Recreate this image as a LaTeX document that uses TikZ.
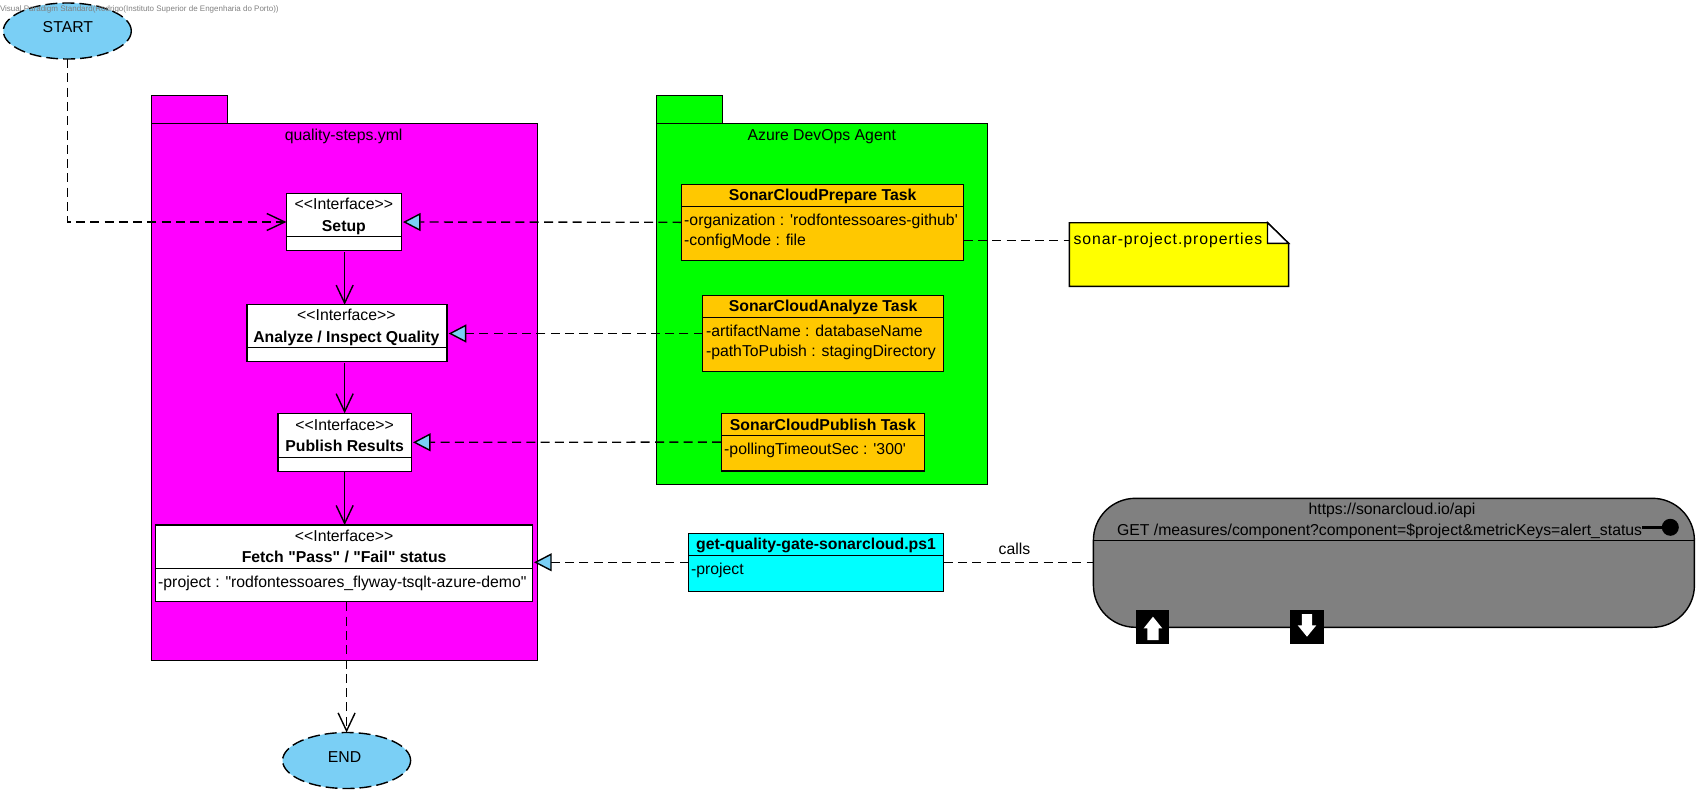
\documentclass[tikz,border=0pt]{standalone}
\usepackage{fontspec}
\newfontfamily\diagramfont{Liberation Sans}
\usetikzlibrary{arrows.meta,shapes.geometric}
\definecolor{P}{RGB}{255,0,255}
\definecolor{G}{RGB}{0,255,0}
\definecolor{O}{RGB}{255,200,0}
\definecolor{Y}{RGB}{255,255,0}
\definecolor{C}{RGB}{0,255,255}
\definecolor{S}{RGB}{122,207,245}
\definecolor{K}{RGB}{128,128,128}
\tikzstyle{box} = [draw=black, line width=1.4pt, rectangle, inner sep=0pt, outer sep=0pt]
\tikzstyle{state} = [draw=black, line width=1.4pt, ellipse, inner sep=0pt, outer sep=0pt,
minimum width=128pt, minimum height=56pt,
fill=S, dash pattern=on 12pt off 5pt]
\tikzstyle{lbl} = [inner sep=0pt, outer sep=0pt, anchor=mid, yshift=-3.5pt, font=\diagramfont\fontsize{15.8}{18}\selectfont]
\tikzstyle{boldlbl} = [lbl, font=\diagramfont\fontsize{15.8}{18}\selectfont\bfseries]
\tikzstyle{attr} = [lbl, anchor=mid west]
\tikzstyle{flow} = [line width=1.4pt, -{Straight Barb[length=18pt,width=17pt]}]
\tikzstyle{call} = [flow, dash pattern=on 9pt off 5.3pt]
\tikzstyle{realize} = [line width=1.4pt, dash pattern=on 9pt off 5.3pt,
-{Triangle[length=17.6pt,width=18pt,fill=S]}, shorten >=1.6pt]
\tikzstyle{link} = [line width=1.4pt, dash pattern=on 9pt off 5.3pt]
\tikzstyle{pin} = [fill=black, inner sep=0pt, outer sep=0pt, minimum width=33.3pt, minimum height=34pt]
\begin{document}
\begin{tikzpicture}[x=1pt, y=-1pt]
    \useasboundingbox (0,0) rectangle (1699,795);

    % packages
    \node[box, fill=P, minimum width=386.1pt, minimum height=537.4pt] (qualitypkg) at (344.45,392) {};
    \node[box, fill=P, minimum width=76.1pt, minimum height=28pt, anchor=south west] (qualitytab) at (qualitypkg.north west) {};
    \node[lbl] (qualityname) at (343.6,135) {quality-steps.yml};

    \node[box, fill=G, minimum width=331.2pt, minimum height=361pt] (agentpkg) at (822,303.8) {};
    \node[box, fill=G, minimum width=66.1pt, minimum height=28pt, anchor=south west] (agenttab) at (agentpkg.north west) {};
    \node[lbl] (agentname) at (821.8,135) {Azure DevOps Agent};

    % start and end
    \node[state] (startstate) at (67.3,31) {};
    \node[lbl] (startname) at (67.9,27.3) {START};
    \node[state] (endstate) at (346.6,760.5) {};
    \node[lbl] (endname) at (344.6,757.3) {END};

    % interfaces
    \node[box, fill=white, minimum width=115pt, minimum height=56.6pt] (setup) at (343.9,222) {};
    \draw[line width=1.4pt] (setup.west |- 0,236.3) -- (setup.east |- 0,236.3);
    \node[lbl] (setuptype) at (343.9,203.7) {<<Interface>>};
    \node[boldlbl] (setupname) at (343.9,225.7) {Setup};

    \node[box, fill=white, minimum width=200.3pt, minimum height=56.6pt] (analyze) at (346.95,333) {};
    \draw[line width=1.4pt] (analyze.west |- 0,347.3) -- (analyze.east |- 0,347.3);
    \node[lbl] (analyzetype) at (346.4,314.7) {<<Interface>>};
    \node[boldlbl] (analyzename) at (346.4,336.7) {Analyze / Inspect Quality};

    \node[box, fill=white, minimum width=133.5pt, minimum height=58pt] (publish) at (344.65,442.3) {};
    \draw[line width=1.4pt] (publish.west |- 0,457.3) -- (publish.east |- 0,457.3);
    \node[lbl] (publishtype) at (344.6,424.7) {<<Interface>>};
    \node[boldlbl] (publishname) at (344.6,445.7) {Publish Results};

    \node[box, fill=white, minimum width=376.8pt, minimum height=76.3pt] (fetch) at (344.1,563.2) {};
    \draw[line width=1.4pt] (fetch.west |- 0,568.3) -- (fetch.east |- 0,568.3);
    \node[lbl] (fetchtype) at (344.1,536) {<<Interface>>};
    \node[boldlbl] (fetchname) at (344.1,557) {Fetch "Pass" / "Fail" status};
    \node[attr] (fetchattr) at (158.2,581.7) {-project : "rodfontessoares\_flyway-tsqlt-azure-demo"};

    % tasks
    \node[box, fill=O, minimum width=281.9pt, minimum height=76pt] (prepare) at (822.65,222.3) {};
    \draw[line width=1.4pt] (prepare.west |- 0,206.3) -- (prepare.east |- 0,206.3);
    \node[boldlbl] (preparename) at (822.65,194.7) {SonarCloudPrepare Task};
    \node[attr] (prepareorg) at (684.2,220) {-organization : 'rodfontessoares-github'};
    \node[attr] (preparemode) at (684.2,240) {-configMode : file};

    \node[box, fill=O, minimum width=240.8pt, minimum height=75.6pt] (analyzetask) at (823.1,333.5) {};
    \draw[line width=1.4pt] (analyzetask.west |- 0,317.3) -- (analyzetask.east |- 0,317.3);
    \node[boldlbl] (analyzetaskname) at (823.1,306) {SonarCloudAnalyze Task};
    \node[attr] (analyzeartifact) at (706,330.7) {-artifactName : databaseName};
    \node[attr] (analyzepath) at (706,351) {-pathToPubish : stagingDirectory};

    \node[box, fill=O, minimum width=203.3pt, minimum height=57.7pt] (publishtask) at (822.85,442.15) {};
    \draw[line width=1.4pt] (publishtask.west |- 0,435.3) -- (publishtask.east |- 0,435.3);
    \node[boldlbl] (publishtaskname) at (822.85,424.7) {SonarCloudPublish Task};
    \node[attr] (publishpoll) at (724.2,449) {-pollingTimeoutSec : '300'};

    % script
    \node[box, fill=C, minimum width=255.1pt, minimum height=58pt] (script) at (816.05,562.3) {};
    \draw[line width=1.4pt] (script.west |- 0,555.3) -- (script.east |- 0,555.3);
    \node[boldlbl] (scriptname) at (816.05,544.3) {get-quality-gate-sonarcloud.ps1};
    \node[attr] (scriptattr) at (691,569.3) {-project};

    % note
    \node[inner sep=0pt, outer sep=0pt, minimum width=219.3pt, minimum height=63.6pt] (note) at (1178.95,254.5) {};
    \draw[line width=1.4pt, fill=Y] (note.north west) -- ++(198.2,0) -- ++(21.1,20.6) |- (note.south west) -- cycle;
    \draw[line width=1.4pt, fill=white] (note.north east) ++(-21.1,0) -- ++(21.1,20.6) -- ++(-21.1,0) -- cycle;
    \node[attr, font=\diagramfont\fontsize{15.8}{18}\selectfont\addfontfeature{LetterSpace=6}] (notename) at (1073.5,238.7) {sonar-project.properties};

    % api
    \node[box, fill=K, rounded corners=42pt, minimum width=601pt, minimum height=129pt] (api) at (1393.9,562.8) {};
    \draw[line width=1.4pt] (api.west |- 0,540.3) -- (api.east |- 0,540.3);
    \node[lbl] (apiurl) at (1392,508.7) {https://sonarcloud.io/api};
    \node[attr] (apiget) at (1117,530) {GET /measures/component?component=\$project\&metricKeys=alert\_status};
    \node[circle, fill=black, inner sep=0pt, outer sep=0pt, minimum size=17pt] (lollipop) at (1670.3,527.3) {};
    \draw[line width=2.6pt] (lollipop -| apiget.east) -- (lollipop);

    \node[pin] (pinup) at (1152.65,627) {};
    \fill[white] (pinup.center) ++(0.3,-10.3) -- ++(9.3,11.6) -- ++(-3.6,0) -- ++(0,11.7) -- ++(-11.4,0) -- ++(0,-11.7) -- ++(-3.6,0) -- cycle;
    \node[pin] (pindown) at (1307,627) {};
    \fill[white] (pindown.center) ++(-5.2,-13) -- ++(10.4,0) -- ++(0,11.3) -- ++(4.1,0) -- ++(-9.3,11.4) -- ++(-9.3,-11.4) -- ++(4.1,0) -- cycle;

    % connectors
    \draw[call] (startstate.south) |- (setup.west);
    \draw[flow] ([yshift=-2pt]setup.south -| publish.south) -- (publish.south |- analyze.north);
    \draw[flow] ([yshift=-2pt]analyze.south -| publish.south) -- (publish.north);
    \draw[flow] ([yshift=-1pt]publish.south) -- (publish.south |- fetch.north);
    \draw[call] ([yshift=-1pt]endstate.north |- fetch.south) -- (endstate.north);

    \draw[realize] (prepare.west) -- (setup.east);
    \draw[realize] (analyzetask.west) -- (analyzetask.west -| analyze.east);
    \draw[realize] (publishtask.west) -- (publish.east);
    \draw[realize] (script.west) -- (script.west -| fetch.east);

    \draw[link] ([yshift=-18pt]prepare.east) -- ([yshift=14.2pt]note.west);
    \draw[link] (script.east) -- (script.east -| api.west);
    \node[lbl] (callsname) at (1014.5,549) {calls};

    \node[lbl, anchor=mid west, yshift=1pt, text=K, font=\diagramfont\fontsize{8}{9}\selectfont] (watermark) at (0,7.3) {Visual Paradigm Standard(Rodrigo(Instituto Superior de Engenharia do Porto))};
\end{tikzpicture}
\end{document}
